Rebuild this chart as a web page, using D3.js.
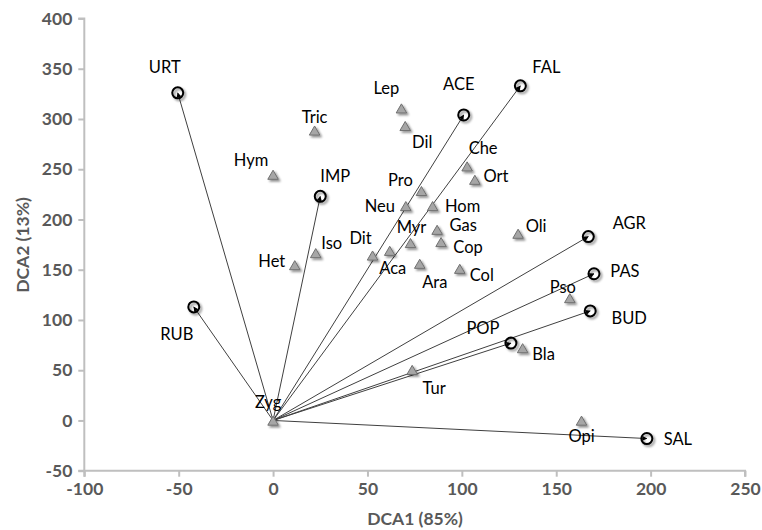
<!DOCTYPE html>
<html>
<head>
<meta charset="utf-8">
<script src="https://cdn.jsdelivr.net/npm/d3@7"></script>
<style>
  html, body { margin: 0; padding: 0; background: #fff; }
  svg { display: block; }
</style>
</head>
<body>
<svg id="chart" width="762" height="530"></svg>
<script>
// ---- Data ----
// Environmental variables (circles, vectors from origin)
const envNames = ["URT", "IMP", "ACE", "FAL", "AGR", "PAS", "BUD", "POP", "SAL", "RUB"];
const envX     = [-50.5, 25, 101, 131, 167, 170, 168, 126, 198, -42];
const envY     = [326, 223, 304, 333, 183, 146, 109, 77, -18, 113];

// Taxa (triangles)
const taxaNames = ["Tric", "Hym", "Het", "Iso", "Dit", "Aca", "Lep", "Dil", "Che", "Ort", "Pro", "Neu", "Hom", "Myr", "Gas", "Cop", "Ara", "Col", "Oli", "Pso", "Bla", "Tur", "Opi", "Zyg"];
const taxaX     = [22, 0, 11.5, 22.6, 52.7, 61.8, 68, 70, 102.8, 106.9, 78.6, 70.3, 84.5, 72.8, 86.9, 89, 77.7, 98.9, 129.8, 157.2, 132.2, 73.7, 163.4, 0];
const taxaY     = [287, 243, 153, 165, 162.6, 167.3, 309, 291.5, 251.3, 238, 226.8, 211.8, 211.8, 175, 188.2, 176, 154.4, 149.4, 184.3, 120.2, 70.4, 48.8, -1.7, -1.7];

// Axis ticks
const xTicks = [-100, -50, 0, 50, 100, 150, 200, 250];
const yTicks = [-50, 0, 50, 100, 150, 200, 250, 300, 350, 400];
const xTitle = "DCA1 (85%)";
const yTitle = "DCA2 (13%)";

// ---- Layout (label offsets in px, not data) ----
const envLabelOffset = {
  URT: [-13, -26], IMP: [15, -20], ACE: [-5, -31], FAL: [26, -19], AGR: [41, -14],
  PAS: [31, -3], BUD: [39, 7], POP: [-28, -15], SAL: [31, 0], RUB: [-17, 27]
};
const taxaLabelOffset = {
  Tric: [0, -15], Hym: [-22, -16], Het: [-23, -6], Iso: [16, -12], Dit: [-12, -19],
  Aca: [3, 16], Lep: [-15, -22], Dil: [17, 14], Che: [16, -20], Ort: [21, -5],
  Pro: [-21, -13], Neu: [-26, -2], Hom: [30, -2], Myr: [1, -18], Gas: [26, -6],
  Cop: [27, 3], Ara: [15, 17], Col: [22, 5], Oli: [18, -9], Pso: [-7, -13],
  Bla: [21, 4], Tur: [22, 17], Opi: [0, 14], Zyg: [-5, -20]
};

const env = envNames.map((n, i) => ({ name: n, x: envX[i], y: envY[i] }));
const taxa = taxaNames.map((n, i) => ({ name: n, x: taxaX[i], y: taxaY[i] }));

const svg = d3.select("#chart");
const x = d3.scaleLinear().domain([-100, 250]).range([84.3, 745]);
const y = d3.scaleLinear().domain([-50, 400]).range([470.7, 18.5]);

const defs = svg.append("defs");
const f = defs.append("filter").attr("id", "shadow").attr("x", "-50%").attr("y", "-50%").attr("width", "200%").attr("height", "200%");
f.append("feDropShadow").attr("dx", 1.8).attr("dy", 1.8).attr("stdDeviation", 1.2)
  .attr("flood-color", "#000").attr("flood-opacity", 0.45);
defs.append("marker").attr("id", "arrow").attr("viewBox", "0 0 10 10")
  .attr("refX", 9).attr("refY", 5).attr("markerWidth", 5).attr("markerHeight", 5)
  .attr("markerUnits", "userSpaceOnUse").attr("orient", "auto")
  .append("path").attr("d", "M0,0 L10,5 L0,10 z").attr("fill", "#000");

const axisColor = "#bfbfbf";
const textGrey = "#595959";
const font = "Lato, 'Open Sans', sans-serif";

// Axes
const xAxis = d3.axisBottom(x).tickValues(xTicks).tickSize(6).tickPadding(6).tickFormat(d => String(d));
const yAxis = d3.axisLeft(y).tickValues(yTicks).tickSize(6).tickPadding(6).tickFormat(d => String(d));

const gx = svg.append("g").attr("transform", `translate(0,${y(-50)})`).call(xAxis);
const gy = svg.append("g").attr("transform", `translate(${x(-100)},0)`).call(yAxis);
[gx, gy].forEach(g => {
  g.select(".domain").attr("stroke", axisColor).attr("stroke-width", 2);
  g.selectAll(".tick line").attr("stroke", axisColor).attr("stroke-width", 2);
  g.selectAll(".tick text").attr("fill", textGrey).attr("font-family", font)
    .attr("font-size", 17.5).attr("font-weight", "bold");
});
gx.select(".domain").attr("d", `M${x(-100)},6V0H${x(250)}V6`);
gy.select(".domain").attr("d", `M-6,${y(400)}H0V${y(-50)}H-6`);

svg.append("text").attr("x", 415).attr("y", 518).attr("text-anchor", "middle")
  .attr("dominant-baseline", "central")
  .attr("fill", textGrey).attr("font-family", font).attr("font-size", 17.5).attr("font-weight", "bold")
  .text(xTitle);
svg.append("text").attr("transform", "translate(22,245) rotate(-90)").attr("text-anchor", "middle")
  .attr("dominant-baseline", "central")
  .attr("fill", textGrey).attr("font-family", font).attr("font-size", 17.5).attr("font-weight", "bold")
  .text(yTitle);

// Vectors
svg.append("g").selectAll("line").data(env).join("line")
  .attr("x1", x(0)).attr("y1", y(0))
  .attr("x2", d => x(d.x)).attr("y2", d => y(d.y))
  .attr("stroke", "#404040").attr("stroke-width", 1)
  .attr("marker-end", "url(#arrow)");

// Triangles
const tri = d3.symbol().type(d3.symbolTriangle).size(48);
svg.append("g").selectAll("path").data(taxa).join("path")
  .attr("d", tri)
  .attr("transform", d => `translate(${x(d.x)},${y(d.y)})`)
  .attr("fill", "#a6a6a6").attr("stroke", "#6f6f6f").attr("stroke-width", 1)
  .attr("filter", "url(#shadow)");

// Circles
svg.append("g").selectAll("circle").data(env).join("circle")
  .attr("cx", d => x(d.x)).attr("cy", d => y(d.y)).attr("r", 5.5)
  .attr("fill", "none").attr("stroke", "#000").attr("stroke-width", 2)
  .attr("filter", "url(#shadow)");

// Labels
const labelFont = 16.5;
svg.append("g").selectAll("text").data(taxa).join("text")
  .attr("x", d => x(d.x) + taxaLabelOffset[d.name][0])
  .attr("y", d => y(d.y) + taxaLabelOffset[d.name][1])
  .attr("text-anchor", "middle").attr("dominant-baseline", "central")
  .attr("font-family", font).attr("font-size", labelFont).attr("fill", "#000")
  .text(d => d.name);
svg.append("g").selectAll("text").data(env).join("text")
  .attr("x", d => x(d.x) + envLabelOffset[d.name][0])
  .attr("y", d => y(d.y) + envLabelOffset[d.name][1])
  .attr("text-anchor", "middle").attr("dominant-baseline", "central")
  .attr("font-family", font).attr("font-size", labelFont).attr("fill", "#000")
  .text(d => d.name);
</script>
</body>
</html>
